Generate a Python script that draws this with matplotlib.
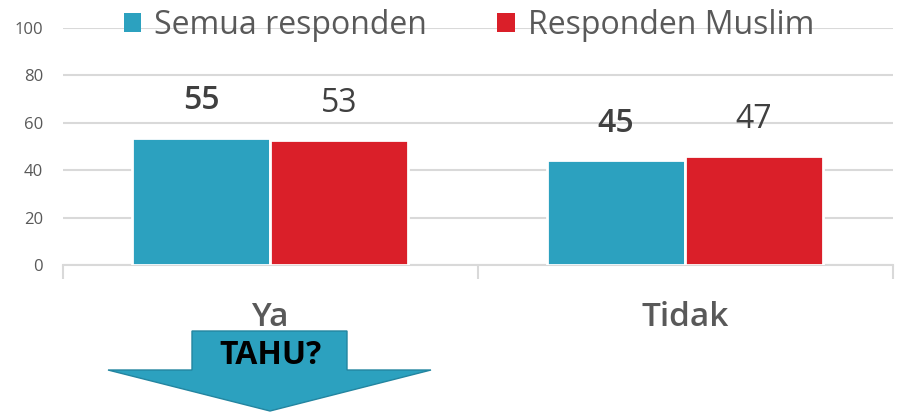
import matplotlib.pyplot as plt
import numpy as np
from matplotlib.patches import Patch, Polygon

plt.rcParams['font.family'] = ['Open Sans', 'DejaVu Sans']

categories = ["Ya", "Tidak"]
series_names = ["Semua responden", "Responden Muslim"]
semua = [53.7, 44.4]
muslim = [52.8, 46.0]
semua_labels = ["55", "45"]
muslim_labels = ["53", "47"]
yticks = [0, 20, 40, 60, 80, 100]

blue = '#2CA1BF'
red = '#DA1F29'
grid_col = '#D9D9D9'
text_col = '#595959'

fig = plt.figure(figsize=(8.97, 4.12), dpi=100)
ax = fig.add_axes([62.5 / 897, 1 - 265 / 412, 830 / 897, 237 / 412])

x = np.arange(len(categories))
w = 0.332
ax.bar(x - w / 2, semua, width=w, color=blue, edgecolor='white', linewidth=2, zorder=3)
ax.bar(x + w / 2, muslim, width=w, color=red, edgecolor='white', linewidth=2, zorder=3)

for i in range(len(categories)):
    ax.text(x[i] - w / 2, semua[i] + 15.5, semua_labels[i], ha='center', va='center',
            fontsize=23, color='#404040', fontweight='semibold')
    ax.text(x[i] + w / 2, muslim[i] + 15.5, muslim_labels[i], ha='center', va='center',
            fontsize=23, color='#404040')

ax.set_xlim(-0.5, len(categories) - 0.5)
ax.set_ylim(0, 100)
ax.set_yticks(yticks)
ax.set_yticklabels([str(v) for v in yticks], fontsize=12, color=text_col)
ax.yaxis.grid(True, color=grid_col, linewidth=1.5, zorder=0)
ax.tick_params(axis='y', length=0, pad=14)

ax.set_xticks(np.arange(len(categories) + 1) - 0.5)
ax.set_xticklabels([])
ax.tick_params(axis='x', which='major', length=10, color=grid_col, width=1.5)
ax.set_xticks(x, minor=True)
ax.set_xticklabels(categories, minor=True, fontsize=24, fontweight='semibold', color=text_col)
ax.tick_params(axis='x', which='minor', length=0, pad=26)

for s in ['top', 'right', 'left']:
    ax.spines[s].set_visible(False)
ax.spines['bottom'].set_color(grid_col)
ax.spines['bottom'].set_linewidth(1.5)

handles = [Patch(facecolor=blue), Patch(facecolor=red)]
leg = fig.legend(handles, series_names, loc='center', bbox_to_anchor=(469 / 897, 1 - 25 / 412),
                 ncol=2, frameon=False, fontsize=23, handlelength=0.55, handleheight=0.55,
                 handletextpad=0.4, columnspacing=2.2, borderpad=0)
for t in leg.get_texts():
    t.set_color(text_col)

# down arrow under "Ya"
pts = [(192, 331), (347, 331), (347, 370), (431, 370), (270, 411), (108, 370), (192, 370)]
pts = [(px / 897, 1 - py / 412) for px, py in pts]
fig.patches.append(Polygon(pts, closed=True, facecolor=blue, edgecolor='#2385A0',
                           linewidth=1, transform=fig.transFigure))
fig.text(270 / 897, 1 - 355 / 412, "TAHU?", ha='center', va='center', fontsize=23,
         fontweight='bold', color='black')

fig.savefig("out.png", dpi=100)
